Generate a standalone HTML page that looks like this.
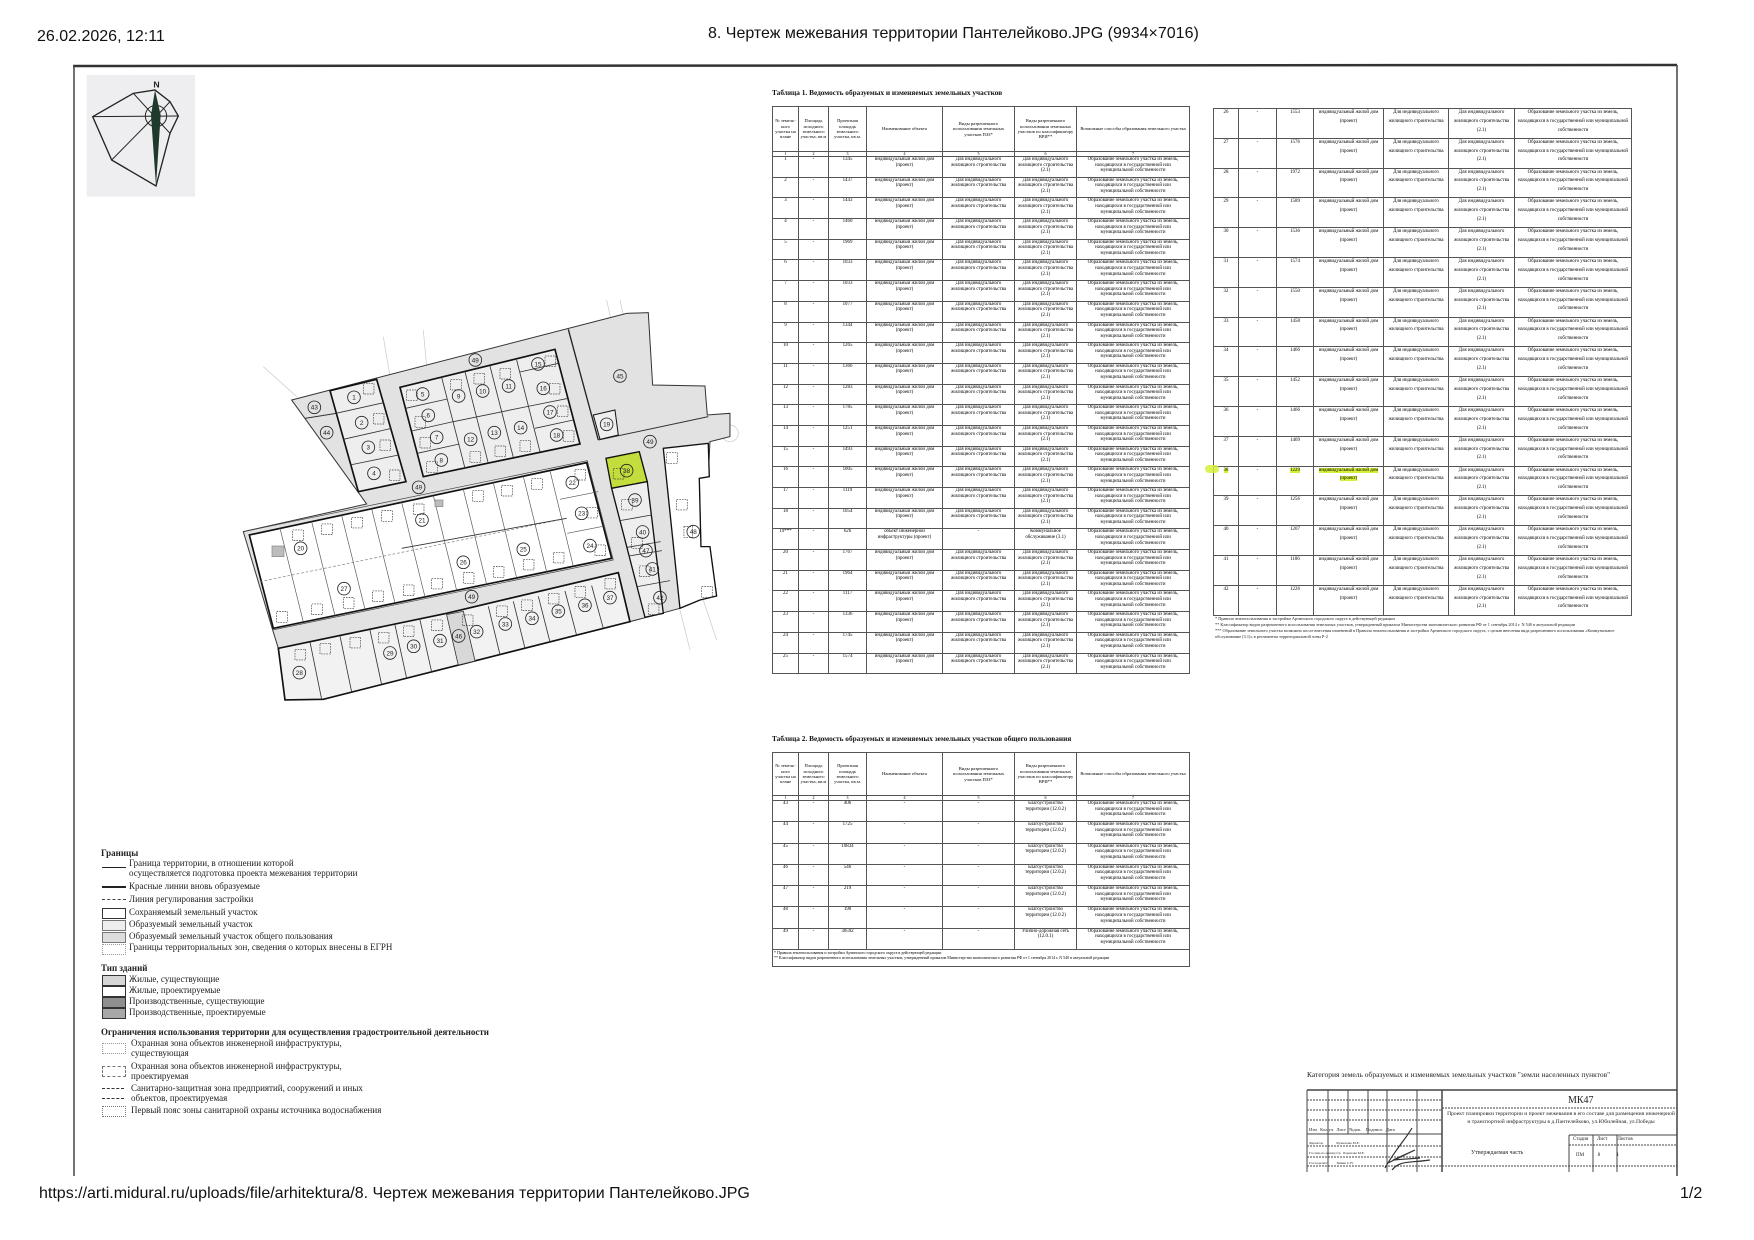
<!DOCTYPE html>
<html><head><meta charset="utf-8">
<style>
html,body{margin:0;padding:0;background:#fff;}
body{width:1754px;height:1240px;position:relative;overflow:hidden;font-family:"Liberation Sans",sans-serif;}
.hd{position:absolute;font-size:16px;color:#111;white-space:nowrap;}
table.t{position:absolute;border-collapse:collapse;table-layout:fixed;font-family:"Liberation Serif",serif;font-size:4.9px;line-height:5.6px;color:#000;}
table.t td{border:1px solid #555;text-align:center;vertical-align:top;padding:0 1px;overflow:hidden;}
table.t tr.h td{vertical-align:middle;font-size:4.6px;line-height:5.4px;}
table.t tr.n td{font-size:4px;line-height:4px;height:4px;}
table.r td{line-height:8.8px;}
.ttl{position:absolute;font-family:"Liberation Serif",serif;font-weight:bold;font-size:7.3px;color:#111;white-space:nowrap;}
.fn{position:absolute;font-family:"Liberation Serif",serif;font-size:4.3px;line-height:6px;color:#222;}
.lg{position:absolute;font-family:"Liberation Serif",serif;font-size:9px;color:#222;white-space:nowrap;line-height:10px;}
.lg b{font-size:9px;}
.sw{position:absolute;width:22px;height:9px;border:1px solid #333;}
.st{position:absolute;font-family:"Liberation Serif",serif;color:#222;white-space:nowrap;}
</style></head><body>

<div class="hd" style="left:37px;top:28px;">26.02.2026, 12:11</div>
<div class="hd" style="left:708px;top:25px;">8. Чертеж межевания территории Пантелейково.JPG (9934×7016)</div>
<div class="hd" style="left:39px;top:1185px;">https://arti.midural.ru/uploads/file/arhitektura/8. Чертеж межевания территории Пантелейково.JPG</div>
<div class="hd" style="left:1680px;top:1185px;">1/2</div>

<svg width="1754" height="1240" style="position:absolute;left:0;top:0;" xmlns="http://www.w3.org/2000/svg">
<line x1="73" y1="66" x2="1677" y2="65" stroke="#333" stroke-width="2.5"/>
<line x1="74" y1="65" x2="74" y2="1176" stroke="#444" stroke-width="1.5"/>
<line x1="1677" y1="65" x2="1677" y2="1176" stroke="#444" stroke-width="1.5"/>

<g transform="translate(70,60) scale(0.3333)">
<rect x="50" y="45" width="325" height="365" fill="#eeeef0"/>
<polygon points="68,170 190,100 255,90 300,125 325,168 300,220 258,378 125,300" fill="none" stroke="#222" stroke-width="4"/>
<line x1="68" y1="170" x2="325" y2="168" stroke="#222" stroke-width="3"/>
<line x1="190" y1="100" x2="300" y2="220" stroke="#222" stroke-width="3"/>
<line x1="125" y1="300" x2="258" y2="165" stroke="#222" stroke-width="3"/>
<line x1="300" y1="125" x2="258" y2="170" stroke="#222" stroke-width="3"/>
<circle cx="258" cy="168" r="32" fill="none" stroke="#222" stroke-width="3"/>
<polygon points="255,90 272,165 258,378 243,165" fill="#1f3a2a"/>
<text x="250" y="82" font-size="26" font-family="Liberation Sans" font-weight="bold" fill="#222">N</text>
</g>

<g transform="translate(230,300) scale(0.3333)" font-family="Liberation Sans">
<g stroke="#c8c8c8" stroke-width="2" fill="none">
<line x1="100" y1="200" x2="200" y2="290"/><line x1="460" y1="110" x2="480" y2="230"/><line x1="580" y1="90" x2="590" y2="200"/>
<line x1="1130" y1="0" x2="1230" y2="450"/><line x1="1170" y1="0" x2="1260" y2="400"/><line x1="1350" y1="930" x2="1380" y2="1050"/>
<line x1="1420" y1="900" x2="1460" y2="1020"/><line x1="1440" y1="350" x2="1500" y2="350"/>
<circle cx="1500" cy="400" r="25"/>
</g>
<polygon points="185,300 1190,40 1255,38 1268,255 1425,258 1432,345 1500,340 1500,410 1440,425 1435,530 1408,535 1413,740 1440,740 1460,888 1410,900 1350,925 1250,952 1200,965 280,1198 165,1200 145,1045 128,990 40,695 410,612" fill="#e2e2e2" stroke="#333" stroke-width="3"/>
<line x1="1015" y1="88" x2="1105" y2="420" stroke="#222" stroke-width="4"/>
<line x1="1105" y1="420" x2="1435" y2="350" stroke="#333" stroke-width="3"/>
<line x1="225" y1="355" x2="318" y2="340" stroke="#333" stroke-width="3"/>
<polygon points="300,272 440,238 528,545 385,575" fill="#eeeeee" stroke="#111" stroke-width="5"/>
<g stroke="#333" stroke-width="2.5"><line x1="318" y1="340" x2="462" y2="308"/><line x1="340" y1="418" x2="485" y2="385"/><line x1="360" y1="495" x2="506" y2="465"/></g>
<polygon points="510,262 975,148 1050,432 580,530" fill="#eeeeee" stroke="#111" stroke-width="5"/>
<g stroke="#333" stroke-width="2.5">
<line x1="635" y1="232" x2="705" y2="505"/><line x1="705" y1="215" x2="775" y2="490"/><line x1="780" y1="198" x2="850" y2="472"/><line x1="860" y1="180" x2="930" y2="455"/>
<line x1="527" y1="325" x2="652" y2="297"/><line x1="545" y1="393" x2="670" y2="365"/><line x1="562" y1="460" x2="688" y2="432"/>
<line x1="670" y1="365" x2="900" y2="318"/>
<line x1="870" y1="216" x2="985" y2="190"/><line x1="900" y1="318" x2="1015" y2="295"/><line x1="915" y1="385" x2="1030" y2="360"/>
</g>
<polygon points="1090,345 1155,330 1165,405 1110,418" fill="#eeeeee" stroke="#111" stroke-width="3"/>
<polygon points="40,695 1072,482 1150,780 128,990" fill="none" stroke="#444" stroke-width="2"/>
<polygon points="58,705 1070,488 1145,775 130,985" fill="#ffffff" stroke="#111" stroke-width="5"/>
<g stroke="#555" stroke-width="2">
<line x1="150" y1="685" x2="220" y2="966"/><line x1="245" y1="665" x2="315" y2="947"/><line x1="335" y1="646" x2="405" y2="928"/><line x1="425" y1="627" x2="495" y2="909"/><line x1="515" y1="607" x2="585" y2="891"/><line x1="610" y1="587" x2="680" y2="871"/><line x1="700" y1="568" x2="770" y2="853"/><line x1="790" y1="548" x2="860" y2="834"/><line x1="880" y1="529" x2="950" y2="815"/><line x1="960" y1="512" x2="1030" y2="799"/>
<line x1="990" y1="598" x2="1105" y2="575"/><line x1="1012" y1="700" x2="1125" y2="678"/>
</g>
<line x1="90" y1="845" x2="1010" y2="655" stroke="#777" stroke-width="2" stroke-dasharray="8,6"/>
<line x1="515" y1="745" x2="1010" y2="655" stroke="#333" stroke-width="2.5"/>
<polygon points="145,1045 650,940 1165,818 1200,965 280,1198 165,1200" fill="#f2f2f2" stroke="#111" stroke-width="5"/>
<g stroke="#333" stroke-width="2.5">
<line x1="240" y1="1026" x2="275" y2="1198"/><line x1="330" y1="1008" x2="365" y2="1176"/><line x1="420" y1="990" x2="455" y2="1154"/><line x1="495" y1="975" x2="530" y2="1135"/><line x1="570" y1="960" x2="605" y2="1116"/><line x1="650" y1="944" x2="685" y2="1095"/><line x1="700" y1="934" x2="735" y2="1083"/><line x1="775" y1="919" x2="810" y2="1064"/><line x1="850" y1="904" x2="885" y2="1045"/><line x1="925" y1="889" x2="960" y2="1026"/><line x1="1005" y1="873" x2="1040" y2="1006"/><line x1="1085" y1="857" x2="1120" y2="985"/>
</g>
<polygon points="650,944 700,934 735,1083 685,1095" fill="#d8d8d8" stroke="#333" stroke-width="2"/>
<polygon points="1128,475 1228,455 1252,545 1145,565" fill="#c2dd3c" stroke="#111" stroke-width="4"/>
<polygon points="1145,565 1252,545 1300,940 1245,952" fill="#eeeeee" stroke="#111" stroke-width="4"/>
<g stroke="#333" stroke-width="2.5"><line x1="1170" y1="662" x2="1265" y2="645"/><line x1="1192" y1="742" x2="1292" y2="725"/><line x1="1196" y1="768" x2="1296" y2="752"/><line x1="1222" y1="860" x2="1320" y2="842"/></g>
<polygon points="1300,445 1435,430 1438,530 1408,535 1413,740 1440,740 1460,888 1410,900 1350,925" fill="#ffffff" stroke="#111" stroke-width="4"/>
<rect x="126" y="738" width="36" height="32" fill="#bdbdbd" stroke="#888" stroke-width="2"/>
<rect x="615" y="600" width="24" height="20" fill="#bdbdbd" stroke="#888" stroke-width="2"/>
<g fill="none" stroke="#444" stroke-width="2" stroke-dasharray="5,3">
<rect x="400" y="250" width="32" height="32"/><rect x="430" y="340" width="32" height="32"/><rect x="450" y="420" width="32" height="32"/><rect x="478" y="510" width="32" height="32"/><rect x="530" y="270" width="32" height="32"/><rect x="555" y="350" width="32" height="32"/><rect x="570" y="412" width="32" height="32"/><rect x="590" y="485" width="32" height="32"/><rect x="662" y="238" width="32" height="32"/><rect x="732" y="220" width="32" height="32"/><rect x="810" y="205" width="32" height="32"/><rect x="945" y="168" width="32" height="32"/><rect x="958" y="250" width="32" height="32"/><rect x="982" y="318" width="32" height="32"/><rect x="1000" y="392" width="32" height="32"/><rect x="720" y="455" width="32" height="32"/><rect x="795" y="438" width="32" height="32"/><rect x="870" y="422" width="32" height="32"/><rect x="1150" y="505" width="32" height="32"/><rect x="1175" y="598" width="32" height="32"/><rect x="1205" y="713" width="32" height="32"/><rect x="1228" y="798" width="32" height="32"/><rect x="1255" y="912" width="32" height="32"/><rect x="1035" y="508" width="32" height="32"/><rect x="1070" y="622" width="32" height="32"/><rect x="1095" y="735" width="32" height="32"/><rect x="1310" y="458" width="32" height="32"/><rect x="1340" y="598" width="32" height="32"/><rect x="1415" y="860" width="32" height="32"/><rect x="1362" y="680" width="26" height="32"/><rect x="188" y="690" width="32" height="32"/><rect x="275" y="672" width="32" height="32"/><rect x="365" y="652" width="32" height="32"/><rect x="455" y="632" width="32" height="32"/><rect x="550" y="612" width="32" height="32"/><rect x="728" y="572" width="32" height="32"/><rect x="815" y="556" width="32" height="32"/><rect x="905" y="536" width="32" height="32"/><rect x="970" y="757" width="32" height="32"/><rect x="880" y="778" width="32" height="32"/><rect x="790" y="800" width="32" height="32"/><rect x="700" y="818" width="32" height="32"/><rect x="605" y="835" width="32" height="32"/><rect x="520" y="855" width="32" height="32"/><rect x="428" y="873" width="32" height="32"/><rect x="340" y="893" width="32" height="32"/><rect x="245" y="912" width="32" height="32"/><rect x="140" y="935" width="32" height="32"/><rect x="195" y="1048" width="32" height="32"/><rect x="270" y="1030" width="32" height="32"/><rect x="360" y="1012" width="32" height="32"/><rect x="445" y="997" width="32" height="32"/><rect x="520" y="978" width="32" height="32"/><rect x="605" y="960" width="32" height="32"/><rect x="697" y="945" width="32" height="32"/><rect x="800" y="918" width="32" height="32"/><rect x="875" y="900" width="32" height="32"/><rect x="955" y="880" width="32" height="32"/><rect x="1035" y="860" width="32" height="32"/><rect x="1125" y="835" width="32" height="32"/>
</g>
<g fill="none" stroke="#222" stroke-width="2.5">
<circle cx="372" cy="292" r="19"/><circle cx="395" cy="368" r="19"/><circle cx="415" cy="442" r="19"/><circle cx="432" cy="520" r="19"/><circle cx="578" cy="282" r="19"/><circle cx="595" cy="346" r="19"/><circle cx="620" cy="412" r="19"/><circle cx="634" cy="480" r="19"/><circle cx="686" cy="288" r="19"/><circle cx="758" cy="273" r="19"/><circle cx="836" cy="258" r="19"/><circle cx="722" cy="418" r="19"/><circle cx="793" cy="398" r="19"/><circle cx="872" cy="383" r="19"/><circle cx="924" cy="192" r="19"/><circle cx="940" cy="265" r="19"/><circle cx="960" cy="336" r="19"/><circle cx="980" cy="405" r="19"/><circle cx="1130" cy="373" r="19"/><circle cx="212" cy="745" r="19"/><circle cx="576" cy="660" r="19"/><circle cx="1027" cy="548" r="19"/><circle cx="1055" cy="640" r="19"/><circle cx="1080" cy="737" r="19"/><circle cx="880" cy="748" r="19"/><circle cx="700" cy="787" r="19"/><circle cx="342" cy="866" r="19"/><circle cx="208" cy="1118" r="19"/><circle cx="480" cy="1059" r="19"/><circle cx="551" cy="1039" r="19"/><circle cx="630" cy="1022" r="19"/><circle cx="740" cy="995" r="19"/><circle cx="826" cy="972" r="19"/><circle cx="906" cy="955" r="19"/><circle cx="985" cy="934" r="19"/><circle cx="1065" cy="916" r="19"/><circle cx="1140" cy="893" r="19"/><circle cx="1190" cy="512" r="19"/><circle cx="1215" cy="600" r="19"/><circle cx="1238" cy="696" r="19"/><circle cx="1267" cy="807" r="19"/><circle cx="1290" cy="893" r="19"/><circle cx="253" cy="322" r="19"/><circle cx="290" cy="398" r="19"/><circle cx="1170" cy="228" r="19"/><circle cx="686" cy="1008" r="19"/><circle cx="1248" cy="752" r="19"/><circle cx="1390" cy="695" r="19"/><circle cx="736" cy="180" r="19"/><circle cx="566" cy="562" r="19"/><circle cx="1260" cy="425" r="19"/><circle cx="725" cy="890" r="19"/>
</g>
<g font-size="19" fill="#222" text-anchor="middle">
<text x="372" y="299">1</text><text x="395" y="375">2</text><text x="415" y="449">3</text><text x="432" y="527">4</text><text x="578" y="289">5</text><text x="595" y="353">6</text><text x="620" y="419">7</text><text x="634" y="487">8</text><text x="686" y="295">9</text><text x="758" y="280">10</text><text x="836" y="265">11</text><text x="722" y="425">12</text><text x="793" y="405">13</text><text x="872" y="390">14</text><text x="924" y="199">15</text><text x="940" y="272">16</text><text x="960" y="343">17</text><text x="980" y="412">18</text><text x="1130" y="380">19</text><text x="212" y="752">20</text><text x="576" y="667">21</text><text x="1027" y="555">22</text><text x="1055" y="647">23</text><text x="1080" y="744">24</text><text x="880" y="755">25</text><text x="700" y="794">26</text><text x="342" y="873">27</text><text x="208" y="1125">28</text><text x="480" y="1066">29</text><text x="551" y="1046">30</text><text x="630" y="1029">31</text><text x="740" y="1002">32</text><text x="826" y="979">33</text><text x="906" y="962">34</text><text x="985" y="941">35</text><text x="1065" y="923">36</text><text x="1140" y="900">37</text><text x="1190" y="519">38</text><text x="1215" y="607">39</text><text x="1238" y="703">40</text><text x="1267" y="814">41</text><text x="1290" y="900">42</text><text x="253" y="329">43</text><text x="290" y="405">44</text><text x="1170" y="235">45</text><text x="686" y="1015">46</text><text x="1248" y="759">47</text><text x="1390" y="702">48</text><text x="736" y="187">49</text><text x="566" y="569">49</text><text x="1260" y="432">49</text><text x="725" y="897">49</text>
</g>
</g>

<g stroke="#444" stroke-width="1" fill="none">
<line x1="1307" y1="1090" x2="1677" y2="1090" stroke-width="1.5"/>
<line x1="1307" y1="1090" x2="1307" y2="1172"/>
<line x1="1442" y1="1090" x2="1442" y2="1172" stroke-width="1.5"/>
<line x1="1328" y1="1090" x2="1328" y2="1172"/><line x1="1348" y1="1090" x2="1348" y2="1134"/><line x1="1368" y1="1090" x2="1368" y2="1134"/><line x1="1387" y1="1090" x2="1387" y2="1172"/><line x1="1417" y1="1090" x2="1417" y2="1172"/>
<line x1="1307" y1="1100" x2="1442" y2="1100" stroke-dasharray="2,1"/><line x1="1307" y1="1110" x2="1442" y2="1110" stroke-dasharray="2,1"/><line x1="1307" y1="1120" x2="1442" y2="1120" stroke-dasharray="2,1"/>
<line x1="1307" y1="1134" x2="1442" y2="1134"/><line x1="1307" y1="1146" x2="1442" y2="1146" stroke-dasharray="2,1"/><line x1="1307" y1="1157" x2="1442" y2="1157" stroke-dasharray="2,1"/><line x1="1307" y1="1166" x2="1442" y2="1166" stroke-dasharray="2,1"/>
<line x1="1442" y1="1108" x2="1677" y2="1108" stroke-dasharray="2,1"/>
<line x1="1569" y1="1135" x2="1677" y2="1135"/><line x1="1569" y1="1145" x2="1677" y2="1145" stroke-dasharray="2,1"/>
<line x1="1569" y1="1135" x2="1569" y2="1172"/><line x1="1593" y1="1135" x2="1593" y2="1172"/><line x1="1617" y1="1135" x2="1617" y2="1172"/>
<line x1="1442" y1="1166" x2="1677" y2="1166" stroke-dasharray="2,1"/>
<path d="M1385,1168 C1395,1150 1405,1140 1412,1128 M1388,1163 L1415,1150 L1393,1160 L1420,1158 M1392,1170 C1400,1160 1410,1163 1430,1160" stroke="#333" stroke-width="1.2"/>
</g>
</svg>

<div class="ttl" style="left:772px;top:88px;">Таблица 1. Ведомость образуемых и изменяемых земельных участков</div>
<table class="t" style="left:772px;top:106px;width:417px;">
<colgroup><col style="width:26px"><col style="width:30px"><col style="width:38px"><col style="width:76px"><col style="width:72px"><col style="width:62px"><col style="width:113px"></colgroup>
<tr class="h" style="height:45px"><td>№ земель-ного участка на плане</td><td>Площадь исходного земельного участка, кв.м</td><td>Проектная площадь земельного участка, кв.м.</td><td>Наименование объекта</td><td>Виды разрешенного использования земельных участков ПЗЗ*</td><td>Виды разрешенного использования земельных участков по классификатору ВРИ**</td><td>Возможные способы образования земельного участка</td></tr>
<tr class="n"><td>1</td><td>2</td><td>3</td><td>4</td><td>5</td><td>6</td><td>7</td></tr>
<tr style="height:20.7px"><td>1</td><td>-</td><td>1345</td><td>индивидуальный жилой дом (проект)</td><td>Для индивидуального жилищного строительства</td><td>Для индивидуального жилищного строительства (2.1)</td><td>Образование земельного участка из земель, находящихся в государственной или муниципальной собственности</td></tr>
<tr style="height:20.7px"><td>2</td><td>-</td><td>1437</td><td>индивидуальный жилой дом (проект)</td><td>Для индивидуального жилищного строительства</td><td>Для индивидуального жилищного строительства (2.1)</td><td>Образование земельного участка из земель, находящихся в государственной или муниципальной собственности</td></tr>
<tr style="height:20.7px"><td>3</td><td>-</td><td>1443</td><td>индивидуальный жилой дом (проект)</td><td>Для индивидуального жилищного строительства</td><td>Для индивидуального жилищного строительства (2.1)</td><td>Образование земельного участка из земель, находящихся в государственной или муниципальной собственности</td></tr>
<tr style="height:20.7px"><td>4</td><td>-</td><td>1460</td><td>индивидуальный жилой дом (проект)</td><td>Для индивидуального жилищного строительства</td><td>Для индивидуального жилищного строительства (2.1)</td><td>Образование земельного участка из земель, находящихся в государственной или муниципальной собственности</td></tr>
<tr style="height:20.7px"><td>5</td><td>-</td><td>1969</td><td>индивидуальный жилой дом (проект)</td><td>Для индивидуального жилищного строительства</td><td>Для индивидуального жилищного строительства (2.1)</td><td>Образование земельного участка из земель, находящихся в государственной или муниципальной собственности</td></tr>
<tr style="height:20.7px"><td>6</td><td>-</td><td>1033</td><td>индивидуальный жилой дом (проект)</td><td>Для индивидуального жилищного строительства</td><td>Для индивидуального жилищного строительства (2.1)</td><td>Образование земельного участка из земель, находящихся в государственной или муниципальной собственности</td></tr>
<tr style="height:20.7px"><td>7</td><td>-</td><td>1033</td><td>индивидуальный жилой дом (проект)</td><td>Для индивидуального жилищного строительства</td><td>Для индивидуального жилищного строительства (2.1)</td><td>Образование земельного участка из земель, находящихся в государственной или муниципальной собственности</td></tr>
<tr style="height:20.7px"><td>8</td><td>-</td><td>1077</td><td>индивидуальный жилой дом (проект)</td><td>Для индивидуального жилищного строительства</td><td>Для индивидуального жилищного строительства (2.1)</td><td>Образование земельного участка из земель, находящихся в государственной или муниципальной собственности</td></tr>
<tr style="height:20.7px"><td>9</td><td>-</td><td>1344</td><td>индивидуальный жилой дом (проект)</td><td>Для индивидуального жилищного строительства</td><td>Для индивидуального жилищного строительства (2.1)</td><td>Образование земельного участка из земель, находящихся в государственной или муниципальной собственности</td></tr>
<tr style="height:20.7px"><td>10</td><td>-</td><td>1265</td><td>индивидуальный жилой дом (проект)</td><td>Для индивидуального жилищного строительства</td><td>Для индивидуального жилищного строительства (2.1)</td><td>Образование земельного участка из земель, находящихся в государственной или муниципальной собственности</td></tr>
<tr style="height:20.7px"><td>11</td><td>-</td><td>1366</td><td>индивидуальный жилой дом (проект)</td><td>Для индивидуального жилищного строительства</td><td>Для индивидуального жилищного строительства (2.1)</td><td>Образование земельного участка из земель, находящихся в государственной или муниципальной собственности</td></tr>
<tr style="height:20.7px"><td>12</td><td>-</td><td>1283</td><td>индивидуальный жилой дом (проект)</td><td>Для индивидуального жилищного строительства</td><td>Для индивидуального жилищного строительства (2.1)</td><td>Образование земельного участка из земель, находящихся в государственной или муниципальной собственности</td></tr>
<tr style="height:20.7px"><td>13</td><td>-</td><td>1785</td><td>индивидуальный жилой дом (проект)</td><td>Для индивидуального жилищного строительства</td><td>Для индивидуального жилищного строительства (2.1)</td><td>Образование земельного участка из земель, находящихся в государственной или муниципальной собственности</td></tr>
<tr style="height:20.7px"><td>14</td><td>-</td><td>1251</td><td>индивидуальный жилой дом (проект)</td><td>Для индивидуального жилищного строительства</td><td>Для индивидуального жилищного строительства (2.1)</td><td>Образование земельного участка из земель, находящихся в государственной или муниципальной собственности</td></tr>
<tr style="height:20.7px"><td>15</td><td>-</td><td>1493</td><td>индивидуальный жилой дом (проект)</td><td>Для индивидуального жилищного строительства</td><td>Для индивидуального жилищного строительства (2.1)</td><td>Образование земельного участка из земель, находящихся в государственной или муниципальной собственности</td></tr>
<tr style="height:20.7px"><td>16</td><td>-</td><td>1005</td><td>индивидуальный жилой дом (проект)</td><td>Для индивидуального жилищного строительства</td><td>Для индивидуального жилищного строительства (2.1)</td><td>Образование земельного участка из земель, находящихся в государственной или муниципальной собственности</td></tr>
<tr style="height:20.7px"><td>17</td><td>-</td><td>1119</td><td>индивидуальный жилой дом (проект)</td><td>Для индивидуального жилищного строительства</td><td>Для индивидуального жилищного строительства (2.1)</td><td>Образование земельного участка из земель, находящихся в государственной или муниципальной собственности</td></tr>
<tr style="height:20.7px"><td>18</td><td>-</td><td>1054</td><td>индивидуальный жилой дом (проект)</td><td>Для индивидуального жилищного строительства</td><td>Для индивидуального жилищного строительства (2.1)</td><td>Образование земельного участка из земель, находящихся в государственной или муниципальной собственности</td></tr>
<tr style="height:20.7px"><td>19***</td><td>-</td><td>626</td><td>объект инженерной инфраструктуры (проект)</td><td>-</td><td>Коммунальное обслуживание (3.1)</td><td>Образование земельного участка из земель, находящихся в государственной или муниципальной собственности</td></tr>
<tr style="height:20.7px"><td>20</td><td>-</td><td>1767</td><td>индивидуальный жилой дом (проект)</td><td>Для индивидуального жилищного строительства</td><td>Для индивидуального жилищного строительства (2.1)</td><td>Образование земельного участка из земель, находящихся в государственной или муниципальной собственности</td></tr>
<tr style="height:20.7px"><td>21</td><td>-</td><td>1964</td><td>индивидуальный жилой дом (проект)</td><td>Для индивидуального жилищного строительства</td><td>Для индивидуального жилищного строительства (2.1)</td><td>Образование земельного участка из земель, находящихся в государственной или муниципальной собственности</td></tr>
<tr style="height:20.7px"><td>22</td><td>-</td><td>1117</td><td>индивидуальный жилой дом (проект)</td><td>Для индивидуального жилищного строительства</td><td>Для индивидуального жилищного строительства (2.1)</td><td>Образование земельного участка из земель, находящихся в государственной или муниципальной собственности</td></tr>
<tr style="height:20.7px"><td>23</td><td>-</td><td>1336</td><td>индивидуальный жилой дом (проект)</td><td>Для индивидуального жилищного строительства</td><td>Для индивидуального жилищного строительства (2.1)</td><td>Образование земельного участка из земель, находящихся в государственной или муниципальной собственности</td></tr>
<tr style="height:20.7px"><td>24</td><td>-</td><td>1745</td><td>индивидуальный жилой дом (проект)</td><td>Для индивидуального жилищного строительства</td><td>Для индивидуального жилищного строительства (2.1)</td><td>Образование земельного участка из земель, находящихся в государственной или муниципальной собственности</td></tr>
<tr style="height:20.7px"><td>25</td><td>-</td><td>1574</td><td>индивидуальный жилой дом (проект)</td><td>Для индивидуального жилищного строительства</td><td>Для индивидуального жилищного строительства (2.1)</td><td>Образование земельного участка из земель, находящихся в государственной или муниципальной собственности</td></tr>
</table>

<table class="t r" style="left:1213px;top:108px;width:418px;">
<colgroup><col style="width:25px"><col style="width:38px"><col style="width:37px"><col style="width:70px"><col style="width:65px"><col style="width:66px"><col style="width:117px"></colgroup>
<tr style="height:29.8px"><td>26</td><td>-</td><td>1553</td><td>индивидуальный жилой дом (проект)</td><td>Для индивидуального жилищного строительства</td><td>Для индивидуального жилищного строительства (2.1)</td><td>Образование земельного участка из земель, находящихся в государственной или муниципальной собственности</td></tr>
<tr style="height:29.8px"><td>27</td><td>-</td><td>1576</td><td>индивидуальный жилой дом (проект)</td><td>Для индивидуального жилищного строительства</td><td>Для индивидуального жилищного строительства (2.1)</td><td>Образование земельного участка из земель, находящихся в государственной или муниципальной собственности</td></tr>
<tr style="height:29.8px"><td>28</td><td>-</td><td>1972</td><td>индивидуальный жилой дом (проект)</td><td>Для индивидуального жилищного строительства</td><td>Для индивидуального жилищного строительства (2.1)</td><td>Образование земельного участка из земель, находящихся в государственной или муниципальной собственности</td></tr>
<tr style="height:29.8px"><td>29</td><td>-</td><td>1589</td><td>индивидуальный жилой дом (проект)</td><td>Для индивидуального жилищного строительства</td><td>Для индивидуального жилищного строительства (2.1)</td><td>Образование земельного участка из земель, находящихся в государственной или муниципальной собственности</td></tr>
<tr style="height:29.8px"><td>30</td><td>-</td><td>1536</td><td>индивидуальный жилой дом (проект)</td><td>Для индивидуального жилищного строительства</td><td>Для индивидуального жилищного строительства (2.1)</td><td>Образование земельного участка из земель, находящихся в государственной или муниципальной собственности</td></tr>
<tr style="height:29.8px"><td>31</td><td>-</td><td>1574</td><td>индивидуальный жилой дом (проект)</td><td>Для индивидуального жилищного строительства</td><td>Для индивидуального жилищного строительства (2.1)</td><td>Образование земельного участка из земель, находящихся в государственной или муниципальной собственности</td></tr>
<tr style="height:29.8px"><td>32</td><td>-</td><td>1550</td><td>индивидуальный жилой дом (проект)</td><td>Для индивидуального жилищного строительства</td><td>Для индивидуального жилищного строительства (2.1)</td><td>Образование земельного участка из земель, находящихся в государственной или муниципальной собственности</td></tr>
<tr style="height:29.8px"><td>33</td><td>-</td><td>1458</td><td>индивидуальный жилой дом (проект)</td><td>Для индивидуального жилищного строительства</td><td>Для индивидуального жилищного строительства (2.1)</td><td>Образование земельного участка из земель, находящихся в государственной или муниципальной собственности</td></tr>
<tr style="height:29.8px"><td>34</td><td>-</td><td>1466</td><td>индивидуальный жилой дом (проект)</td><td>Для индивидуального жилищного строительства</td><td>Для индивидуального жилищного строительства (2.1)</td><td>Образование земельного участка из земель, находящихся в государственной или муниципальной собственности</td></tr>
<tr style="height:29.8px"><td>35</td><td>-</td><td>1452</td><td>индивидуальный жилой дом (проект)</td><td>Для индивидуального жилищного строительства</td><td>Для индивидуального жилищного строительства (2.1)</td><td>Образование земельного участка из земель, находящихся в государственной или муниципальной собственности</td></tr>
<tr style="height:29.8px"><td>36</td><td>-</td><td>1466</td><td>индивидуальный жилой дом (проект)</td><td>Для индивидуального жилищного строительства</td><td>Для индивидуального жилищного строительства (2.1)</td><td>Образование земельного участка из земель, находящихся в государственной или муниципальной собственности</td></tr>
<tr style="height:29.8px"><td>37</td><td>-</td><td>1469</td><td>индивидуальный жилой дом (проект)</td><td>Для индивидуального жилищного строительства</td><td>Для индивидуального жилищного строительства (2.1)</td><td>Образование земельного участка из земель, находящихся в государственной или муниципальной собственности</td></tr>
<tr style="height:29.8px"><td><span style="background:#d6f03a">38</span></td><td>-</td><td><span style="background:#d6f03a">1229</span></td><td><span style="background:#d6f03a">индивидуальный жилой дом (проект)</span></td><td>Для индивидуального жилищного строительства</td><td>Для индивидуального жилищного строительства (2.1)</td><td>Образование земельного участка из земель, находящихся в государственной или муниципальной собственности</td></tr>
<tr style="height:29.8px"><td>39</td><td>-</td><td>1256</td><td>индивидуальный жилой дом (проект)</td><td>Для индивидуального жилищного строительства</td><td>Для индивидуального жилищного строительства (2.1)</td><td>Образование земельного участка из земель, находящихся в государственной или муниципальной собственности</td></tr>
<tr style="height:29.8px"><td>40</td><td>-</td><td>1207</td><td>индивидуальный жилой дом (проект)</td><td>Для индивидуального жилищного строительства</td><td>Для индивидуального жилищного строительства (2.1)</td><td>Образование земельного участка из земель, находящихся в государственной или муниципальной собственности</td></tr>
<tr style="height:29.8px"><td>41</td><td>-</td><td>1186</td><td>индивидуальный жилой дом (проект)</td><td>Для индивидуального жилищного строительства</td><td>Для индивидуального жилищного строительства (2.1)</td><td>Образование земельного участка из земель, находящихся в государственной или муниципальной собственности</td></tr>
<tr style="height:29.8px"><td>42</td><td>-</td><td>1226</td><td>индивидуальный жилой дом (проект)</td><td>Для индивидуального жилищного строительства</td><td>Для индивидуального жилищного строительства (2.1)</td><td>Образование земельного участка из земель, находящихся в государственной или муниципальной собственности</td></tr>
</table>
<div style="position:absolute;left:1205px;top:465px;width:14px;height:8px;background:#d6f03a;border-radius:4px;opacity:.85"></div>
<div class="fn" style="left:1215px;top:616px;width:416px;">* Правила землепользования и застройки Артинского городского округа в действующей редакции<br>** Классификатор видов разрешенного использования земельных участков, утвержденный приказом Министерства экономического развития РФ от 1 сентября 2014 г. N 540 в актуальной редакции<br>*** Образование земельного участка возможно после внесения изменений в Правила землепользования и застройки Артинского городского округа, с целью внесения вида разрешенного использования «Коммунальное обслуживание (3.1)» в регламенты территориальной зоны Р-2</div>

<div class="ttl" style="left:772px;top:734px;">Таблица 2. Ведомость образуемых и изменяемых земельных участков общего пользования</div>
<table class="t" style="left:772px;top:752px;width:417px;">
<colgroup><col style="width:26px"><col style="width:30px"><col style="width:38px"><col style="width:76px"><col style="width:72px"><col style="width:62px"><col style="width:113px"></colgroup>
<tr class="h" style="height:43px"><td>№ земель-ного участка на плане</td><td>Площадь исходного земельного участка, кв.м</td><td>Проектная площадь земельного участка, кв.м.</td><td>Наименование объекта</td><td>Виды разрешенного использования земельных участков ПЗЗ*</td><td>Виды разрешенного использования земельных участков по классификатору ВРИ**</td><td>Возможные способы образования земельного участка</td></tr>
<tr class="n"><td>1</td><td>2</td><td>3</td><td>4</td><td>5</td><td>6</td><td>7</td></tr>
<tr style="height:21.3px"><td>43</td><td>-</td><td>406</td><td>-</td><td>-</td><td>Благоустройство территории (12.0.2)</td><td>Образование земельного участка из земель, находящихся в государственной или муниципальной собственности</td></tr>
<tr style="height:21.3px"><td>44</td><td>-</td><td>1725</td><td>-</td><td>-</td><td>Благоустройство территории (12.0.2)</td><td>Образование земельного участка из земель, находящихся в государственной или муниципальной собственности</td></tr>
<tr style="height:21.3px"><td>45</td><td>-</td><td>10834</td><td>-</td><td>-</td><td>Благоустройство территории (12.0.2)</td><td>Образование земельного участка из земель, находящихся в государственной или муниципальной собственности</td></tr>
<tr style="height:21.3px"><td>46</td><td>-</td><td>546</td><td>-</td><td>-</td><td>Благоустройство территории (12.0.2)</td><td>Образование земельного участка из земель, находящихся в государственной или муниципальной собственности</td></tr>
<tr style="height:21.3px"><td>47</td><td>-</td><td>219</td><td>-</td><td>-</td><td>Благоустройство территории (12.0.2)</td><td>Образование земельного участка из земель, находящихся в государственной или муниципальной собственности</td></tr>
<tr style="height:21.3px"><td>48</td><td>-</td><td>190</td><td>-</td><td>-</td><td>Благоустройство территории (12.0.2)</td><td>Образование земельного участка из земель, находящихся в государственной или муниципальной собственности</td></tr>
<tr style="height:21.3px"><td>49</td><td>-</td><td>30592</td><td>-</td><td>-</td><td>Улично-дорожная сеть (12.0.1)</td><td>Образование земельного участка из земель, находящихся в государственной или муниципальной собственности</td></tr>
<tr style="height:17px"><td colspan="7" style="text-align:left;font-size:4px;line-height:5px;">* Правила землепользования и застройки Артинского городского округа в действующей редакции<br>** Классификатор видов разрешенного использования земельных участков, утвержденный приказом Министерства экономического развития РФ от 1 сентября 2014 г. N 540 в актуальной редакции</td></tr>
</table>

<div class="lg" style="left:101px;top:848px;"><b>Границы</b></div>
<div style="position:absolute;left:102px;top:867px;width:24px;border-top:1.5px solid #222"></div>
<div class="lg" style="left:129px;top:858px;">Граница территории, в отношении которой<br>осуществляется подготовка проекта межевания территории</div>
<div style="position:absolute;left:102px;top:886px;width:24px;border-top:2px solid #222"></div>
<div class="lg" style="left:129px;top:881px;">Красные линии вновь образуемые</div>
<div style="position:absolute;left:102px;top:899px;width:24px;border-top:1px dashed #444"></div>
<div class="lg" style="left:129px;top:894px;">Линия регулирования застройки</div>
<div class="sw" style="left:102px;top:908px;background:#fff"></div>
<div class="lg" style="left:129px;top:907px;">Сохраняемый земельный участок</div>
<div class="sw" style="left:102px;top:920px;background:#eee;border-color:#777"></div>
<div class="lg" style="left:129px;top:919px;">Образуемый земельный участок</div>
<div class="sw" style="left:102px;top:932px;background:#ddd;border-color:#777"></div>
<div class="lg" style="left:129px;top:931px;">Образуемый земельный участок общего пользования</div>
<div class="sw" style="left:102px;top:944px;background:#fff;border-color:#999;border-style:dotted"></div>
<div class="lg" style="left:129px;top:942px;">Границы территориальных зон, сведения о которых внесены в ЕГРН</div>

<div class="lg" style="left:101px;top:963px;"><b>Тип зданий</b></div>
<div class="sw" style="left:102px;top:975px;background:#d6d6d6"></div>
<div class="lg" style="left:129px;top:974px;">Жилые, существующие</div>
<div class="sw" style="left:102px;top:986px;background:#fff"></div>
<div class="lg" style="left:129px;top:985px;">Жилые, проектируемые</div>
<div class="sw" style="left:102px;top:997px;background:#8f8f8f"></div>
<div class="lg" style="left:129px;top:996px;">Производственные, существующие</div>
<div class="sw" style="left:102px;top:1008px;background:#a8a8a8"></div>
<div class="lg" style="left:129px;top:1007px;">Производственные, проектируемые</div>

<div class="lg" style="left:101px;top:1027px;"><b>Ограничения использования территории для осуществления градостроительной деятельности</b></div>
<div class="sw" style="left:102px;top:1043px;background:#fff;border-color:#999;border-style:dotted"></div>
<div class="lg" style="left:131px;top:1038px;">Охранная зона объектов инженерной инфраструктуры,<br>существующая</div>
<div class="sw" style="left:102px;top:1066px;background:#fff;border-color:#777;border-style:dashed"></div>
<div class="lg" style="left:131px;top:1061px;">Охранная зона объектов инженерной инфраструктуры,<br>проектируемая</div>
<div class="sw" style="left:102px;top:1088px;background:#fff;border-color:#333;border-style:dashed;border-left:none;border-right:none"></div>
<div class="lg" style="left:131px;top:1083px;">Санитарно-защитная зона предприятий, сооружений и иных<br>объектов, проектируемая</div>
<div class="sw" style="left:102px;top:1106px;background:#fff;border-color:#777;border-style:dotted"></div>
<div class="lg" style="left:131px;top:1105px;">Первый пояс зоны санитарной охраны источника водоснабжения</div>

<div class="st" style="left:1307px;top:1070px;font-size:7.5px;">Категория земель образуемых и изменяемых земельных участков "земли населенных пунктов"</div>
<div class="st" style="left:1568px;top:1095px;font-size:10px;">МК47</div>
<div class="st" style="left:1446px;top:1110px;width:230px;text-align:center;font-size:5.6px;line-height:8px;white-space:normal;">Проект планировки территории и проект межевания в его составе для размещения инженерной и транспортной инфраструктуры в д.Пантелейково, ул.Юбилейная, ул.Победы</div>
<div class="st" style="left:1309px;top:1127px;font-size:4.5px;">Изм &nbsp; Кол.уч. &nbsp;Лист &nbsp; №док. &nbsp; &nbsp;Подпись &nbsp; Дата</div>
<div class="st" style="left:1309px;top:1141px;font-size:3.5px;">Директор &nbsp; &nbsp; &nbsp; &nbsp; &nbsp; &nbsp; &nbsp; Кузнецова М.Е.</div>
<div class="st" style="left:1309px;top:1151px;font-size:3.5px;">Гл.спец.по.землеустр &nbsp; Баранова М.Е.</div>
<div class="st" style="left:1309px;top:1161px;font-size:3.5px;">Гл.геодезист &nbsp; &nbsp; &nbsp; &nbsp; &nbsp;Зимин С.Н.</div>
<div class="st" style="left:1471px;top:1150px;font-size:6px;">Утверждаемая часть</div>
<div class="st" style="left:1573px;top:1137px;font-size:5px;">Стадия &nbsp; &nbsp; &nbsp; Лист &nbsp; &nbsp; &nbsp; &nbsp;Листов</div>
<div class="st" style="left:1576px;top:1153px;font-size:5px;">ПМ &nbsp; &nbsp; &nbsp; &nbsp; &nbsp; 8 &nbsp; &nbsp; &nbsp; &nbsp; &nbsp; &nbsp; 1</div>

</body></html>
